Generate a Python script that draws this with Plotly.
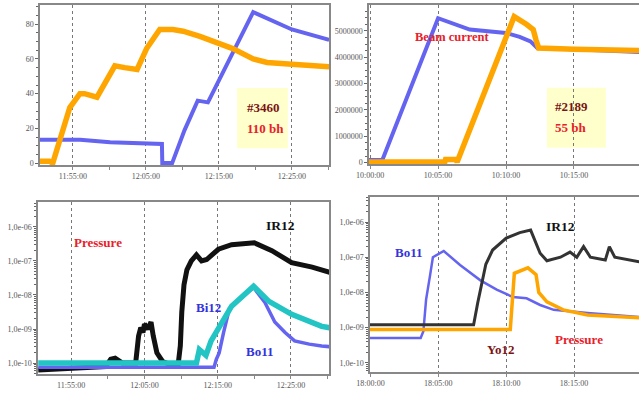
import plotly.graph_objects as go

DAY = "2004-01-01 "

# ---------------- top-left: beam current #3460 ----------------
tl_orange_t = ["11:50:30", "11:51:48", "11:52:15", "11:53:38", "11:54:35", "11:55:58", "11:56:36",
               "11:58:18", "12:00:45", "12:02:06", "12:03:48", "12:05:06", "12:06:54", "12:08:42",
               "12:10:06", "12:12:24", "12:14:30", "12:16:54", "12:19:42", "12:21:36", "12:25:00",
               "12:28:48", "12:30:06"]
tl_orange_v = [1, 1, 0, 20, 32, 40, 40, 38, 56, 55, 54, 66, 77, 77, 76, 73, 70, 66, 60, 58, 57, 56, 55.5]

tl_blue_t = ["11:50:30", "11:56:00", "12:00:06", "12:05:06", "12:07:12", "12:07:15", "12:08:36",
             "12:10:18", "12:12:06", "12:13:30", "12:19:42", "12:25:00", "12:30:06"]
tl_blue_v = [13.5, 13.5, 12, 11, 11, 0, 0, 19, 36, 35, 87, 77, 71]

# ---------------- top-right: beam current #2189 ----------------
tr_blue_t = ["09:59:55", "10:00:54", "10:05:00", "10:07:20", "10:10:00", "10:11:00", "10:11:48",
             "10:12:18", "10:15:00", "10:19:50"]
tr_blue_v = [100000, 100000, 5480000, 5050000, 4920000, 4770000, 4600000, 4350000, 4300000, 4200000]

tr_orange_t = ["09:59:55", "10:05:30", "10:05:33", "10:06:18", "10:06:24", "10:10:36", "10:11:30",
               "10:12:00", "10:12:12", "10:12:24", "10:15:00", "10:19:50"]
tr_orange_v = [30000, 30000, 120000, 120000, 30000, 5540000, 5250000, 5050000, 4660000, 4350000,
               4300000, 4250000]

# ---------------- bottom-left: pressure ----------------
bl_ir12_t = ["11:50:30", "11:56:12", "11:59:42", "12:00:24", "12:01:00", "12:02:00", "12:03:48",
             "12:04:12", "12:04:30", "12:04:48", "12:05:00", "12:05:30", "12:05:54", "12:06:12",
             "12:06:42", "12:07:30", "12:08:36", "12:09:36", "12:09:54", "12:10:06", "12:10:24",
             "12:10:48", "12:11:24", "12:12:06", "12:12:48", "12:13:30", "12:15:06", "12:16:54",
             "12:18:54", "12:20:00", "12:22:24", "12:25:06", "12:27:54", "12:30:30"]
bl_ir12_v = [6.3e-11, 7.1e-11, 7.9e-11, 1.3e-10, 1.4e-10, 1.0e-10, 1.0e-10,
             6.3e-10, 1.1e-9, 7.9e-10, 1.4e-9, 1.0e-9, 1.6e-9, 6.3e-10,
             2.0e-10, 1.1e-10, 8.9e-11, 8.9e-11, 3.2e-10, 3.2e-9, 2.0e-8,
             5.5e-8, 1.0e-7, 1.5e-7, 1.0e-7, 1.1e-7, 2.2e-7, 3.0e-7,
             3.3e-7, 3.4e-7, 2.0e-7, 8.9e-8, 6.6e-8, 4.5e-8]

bl_bi12_t = ["11:50:30", "12:12:06", "12:12:30", "12:13:24", "12:14:06", "12:15:06", "12:16:54",
             "12:19:54", "12:22:00", "12:25:06", "12:29:12", "12:30:30"]
bl_bi12_v = [1.0e-10, 1.0e-10, 2.5e-10, 1.7e-10, 4.5e-10, 1.1e-9, 4.7e-9,
             1.8e-8, 6.5e-9, 2.7e-9, 1.2e-9, 1.07e-9]

bl_bo11_t = ["11:50:30", "12:14:30", "12:14:48", "12:15:12", "12:15:48", "12:16:36", "12:19:54",
             "12:21:24", "12:22:48", "12:24:12", "12:25:30", "12:27:30", "12:29:12", "12:30:30"]
bl_bo11_v = [7.6e-11, 7.6e-11, 1.26e-10, 2.0e-10, 7.9e-10, 4.0e-9, 1.66e-8,
             6.3e-9, 1.6e-9, 7.9e-10, 4.5e-10, 3.6e-10, 3.2e-10, 3.0e-10]

# ---------------- bottom-right: pressure ----------------
br_ir12_t = ["17:59:48", "18:07:36", "18:07:54", "18:08:12", "18:08:30", "18:09:00", "18:10:00",
             "18:11:00", "18:11:48", "18:12:30", "18:13:00", "18:14:00", "18:14:42", "18:15:12",
             "18:15:42", "18:16:12", "18:17:18", "18:17:36", "18:18:00", "18:19:48"]
br_ir12_v = [1.2e-9, 1.2e-9, 5.0e-9, 2.0e-8, 6.3e-8, 1.6e-7, 3.5e-7,
             5.0e-7, 5.9e-7, 1.3e-7, 7.9e-8, 1.0e-7, 1.4e-7, 1.0e-7,
             2.0e-7, 1.0e-7, 8.3e-8, 2.0e-7, 1.0e-7, 7.4e-8]

br_bo11_t = ["17:59:48", "18:03:42", "18:03:54", "18:04:06", "18:04:24", "18:04:36", "18:05:24",
             "18:06:36", "18:08:06", "18:09:18", "18:10:30", "18:11:30", "18:12:30", "18:13:30",
             "18:16:00", "18:19:48"]
br_bo11_v = [5.1e-10, 5.1e-10, 7.9e-10, 6.3e-9, 3.2e-8, 1.0e-7, 1.5e-7,
             6.0e-8, 2.2e-8, 1.2e-8, 7.4e-9, 6.8e-9, 4.4e-9, 3.2e-9, 2.6e-9, 2.0e-9]

br_yo12_t = ["17:59:48", "18:10:18", "18:10:36", "18:11:00", "18:11:36", "18:12:12", "18:12:24",
             "18:13:00", "18:14:12", "18:16:00", "18:19:48"]
br_yo12_v = [8.9e-10, 8.9e-10, 3.5e-8, 4.0e-8, 5.0e-8, 3.2e-8, 1.0e-8,
             5.4e-9, 3.2e-9, 2.3e-9, 1.9e-9]

# tick labels
lin_ticks_tl = [0, 20, 40, 60, 80]
lin_ticks_tr = [0, 1000000, 2000000, 3000000, 4000000, 5000000]
lin_ticktext_tr = ["0", "1000000", "2000000", "3000000", "4000000", "5000000"]
log_ticks = [1e-10, 1e-9, 1e-8, 1e-7, 1e-6]
log_ticktext = ["1,0e-10", "1,0e-09", "1,0e-08", "1,0e-07", "1,0e-06"]

ORANGE = "#FFA500"
BLUE = "#6464F0"
CYAN = "#22C4C4"
BLACK = "#111111"
RED = "#E8202A"
DARKRED = "#7A1414"
TICKFONT = dict(family="Liberation Serif", size=8, color="#555555")
W, H = 639, 394


def d(t):
    return DAY + t


def dl(ts):
    return [d(t) for t in ts]


def px_x(a, b):
    return [a / W, min(b / W, 1.0)]


def px_y(top, bottom):
    return [1 - bottom / H, 1 - top / H]


fig = go.Figure()

fig.add_trace(go.Scatter(x=dl(tl_blue_t), y=tl_blue_v, mode="lines", line=dict(color=BLUE, width=4),
                         xaxis="x", yaxis="y"))
fig.add_trace(go.Scatter(x=dl(tl_orange_t), y=tl_orange_v, mode="lines", line=dict(color=ORANGE, width=5.5),
                         xaxis="x", yaxis="y"))
fig.add_trace(go.Scatter(x=dl(tr_blue_t), y=tr_blue_v, mode="lines", line=dict(color=BLUE, width=4),
                         xaxis="x2", yaxis="y2"))
fig.add_trace(go.Scatter(x=dl(tr_orange_t), y=tr_orange_v, mode="lines", line=dict(color=ORANGE, width=5.5),
                         xaxis="x2", yaxis="y2"))
fig.add_trace(go.Scatter(x=dl(bl_ir12_t), y=bl_ir12_v, mode="lines", line=dict(color=BLACK, width=5),
                         xaxis="x3", yaxis="y3"))
fig.add_trace(go.Scatter(x=dl(bl_bo11_t), y=bl_bo11_v, mode="lines", line=dict(color=BLUE, width=3.5),
                         xaxis="x3", yaxis="y3"))
fig.add_trace(go.Scatter(x=dl(bl_bi12_t), y=bl_bi12_v, mode="lines", line=dict(color=CYAN, width=5.5),
                         xaxis="x3", yaxis="y3"))
fig.add_trace(go.Scatter(x=dl(br_bo11_t), y=br_bo11_v, mode="lines", line=dict(color=BLUE, width=2.5),
                         xaxis="x4", yaxis="y4"))
fig.add_trace(go.Scatter(x=dl(br_yo12_t), y=br_yo12_v, mode="lines", line=dict(color=ORANGE, width=3.5),
                         xaxis="x4", yaxis="y4"))
fig.add_trace(go.Scatter(x=dl(br_ir12_t), y=br_ir12_v, mode="lines", line=dict(color="#333333", width=3),
                         xaxis="x4", yaxis="y4"))


def xax(domain, rng, tick0, dtick, anchor, mirror=True, minor=None):
    ax = dict(domain=domain, range=[d(rng[0]), d(rng[1])], type="date", anchor=anchor,
              tick0=d(tick0), dtick=dtick, tickformat="%H:%M:%S", tickfont=TICKFONT,
              showline=True, linecolor="#888888", linewidth=1.5, mirror=mirror,
              ticks="outside", ticklen=3, tickcolor="#888888", automargin=False,
              showgrid=True, gridcolor="#777777", griddash="dot", gridwidth=1, zeroline=False)
    if minor:
        ax["minor"] = minor
    return ax


def yax(domain, anchor, mirror=True, **kw):
    ax = dict(domain=domain, anchor=anchor, tickfont=TICKFONT, showline=True, linecolor="#888888",
              linewidth=1.5, mirror=mirror, ticks="outside", ticklen=3, tickcolor="#666666",
              showgrid=False, zeroline=False, automargin=False)
    ax.update(kw)
    return ax


minor5 = dict(dtick=300000, ticks="outside", ticklen=3, tickcolor="#888888", showgrid=False)

fig.update_layout(
    width=W, height=H, margin=dict(l=0, r=0, t=0, b=0, autoexpand=False),
    paper_bgcolor="white", plot_bgcolor="white", showlegend=False,
    xaxis=xax(px_x(40, 329), ["11:50:30", "12:30:05"], "11:55:00", 600000, "y", minor=minor5),
    yaxis=yax(px_y(5, 165), "x", range=[-1.1, 91.1], tickvals=lin_ticks_tl,
              minor=dict(dtick=5, ticks="outside", ticklen=2, tickcolor="#666666")),
    xaxis2=xax(px_x(369, 639), ["09:59:55", "10:19:47"], "10:00:00", 300000, "y2", mirror=True),
    yaxis2=yax(px_y(5, 164), "x2", mirror=False, range=[-50000, 5980000], tickvals=lin_ticks_tr,
               ticktext=lin_ticktext_tr,
               minor=dict(dtick=250000, ticks="outside", ticklen=2, tickcolor="#666666")),
    xaxis3=xax(px_x(38, 329), ["11:50:28", "12:30:12"], "11:55:00", 600000, "y3", minor=minor5),
    yaxis3=yax(px_y(202, 374), "x3", type="log", range=[-10.32, -5.27], tickvals=log_ticks,
               ticktext=log_ticktext,
               minor=dict(dtick="D1", ticks="outside", ticklen=2, tickcolor="#666666")),
    xaxis4=xax(px_x(370, 639), ["17:59:58", "18:19:47"], "18:00:00", 300000, "y4", mirror=True),
    yaxis4=yax(px_y(197, 372), "x4", mirror=False, type="log", range=[-10.26, -5.29], tickvals=log_ticks,
               ticktext=log_ticktext,
               minor=dict(dtick="D1", ticks="outside", ticklen=2, tickcolor="#666666")),
)

# yellow info boxes
fig.add_shape(type="rect", xref="x", yref="y", x0=d("12:17:30"), x1=d("12:24:27"), y0=8.6, y1=43.2,
              fillcolor="#FFFFCC", line=dict(width=0), layer="below")
fig.add_shape(type="rect", xref="x2", yref="y2", x0=d("10:13:00"), x1=d("10:17:21"), y0=570000, y1=2840000,
              fillcolor="#FFFFCC", line=dict(width=0), layer="below")

SERIF = "Liberation Serif"


def ann(text, x, y, xref, yref, color, size=14, xanchor="center"):
    fig.add_annotation(text="<b>" + text + "</b>", x=x, y=y, xref=xref, yref=yref, showarrow=False,
                       xanchor=xanchor, yanchor="middle",
                       font=dict(family=SERIF, size=size, color=color))


ann("#3460", d("12:18:34"), 32.3, "x", "y", DARKRED, 13, "left")
ann("110 bh", d("12:18:34"), 20.2, "x", "y", RED, 13, "left")
ann("#2189", d("10:13:27"), 2120000, "x2", "y2", DARKRED, 13, "left")
ann("55 bh", d("10:13:27"), 1330000, "x2", "y2", RED, 13, "left")
ann("Beam current", d("10:06:02"), 4770000, "x2", "y2", RED, 12.5)

ann("Pressure", d("11:58:42"), -6.47, "x3", "y3", RED, 13)
ann("IR12", d("12:23:36"), -5.97, "x3", "y3", BLACK, 13.5)
ann("Bi12", d("12:13:42"), -8.37, "x3", "y3", "#3333DD", 13)
ann("Bo11", d("12:20:42"), -9.65, "x3", "y3", "#3333DD", 13)

ann("IR12", d("18:13:58"), -6.14, "x4", "y4", BLACK, 13.5)
ann("Bo11", d("18:02:48"), -6.88, "x4", "y4", "#3333DD", 13)
ann("Yo12", d("18:09:34"), -9.63, "x4", "y4", DARKRED, 13)
ann("Pressure", d("18:15:22"), -9.35, "x4", "y4", RED, 13)

fig.write_html("out.html", config={"displayModeBar": False},
               post_script="document.body.style.margin='0';document.body.style.overflow='hidden';")
